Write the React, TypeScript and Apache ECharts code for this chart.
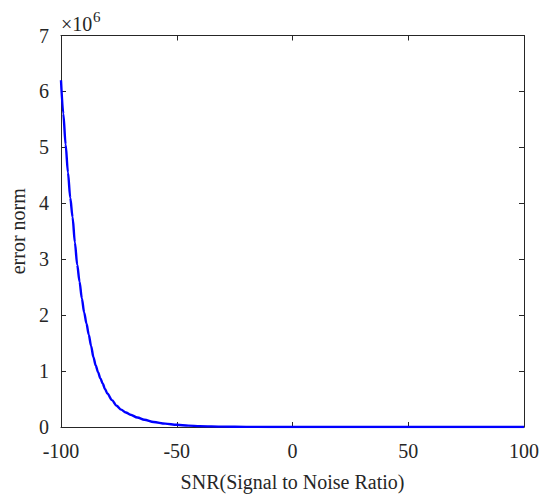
import React, { useEffect, useRef } from "react";
import * as echarts from "echarts";

const snr = [
  -100, -99, -98, -97, -96, -95, -94, -93, -92, -91, -90, -89, -88, -87, -86, -85, -84, -83, -82, -81,
  -80, -78, -76, -74, -72, -70, -67, -64, -60, -55, -50, -45, -40, -30, -20, -10, 0, 50, 100,
];
const errorNorm = [
  6.2, 5.6, 5.05, 4.55, 4.1, 3.75, 3.3, 2.9, 2.6, 2.3, 2.05, 1.85, 1.65, 1.45, 1.25, 1.1, 0.98, 0.87, 0.78,
  0.68, 0.6, 0.48, 0.38, 0.31, 0.26, 0.22, 0.17, 0.13, 0.09, 0.06, 0.04, 0.025, 0.015, 0.006, 0.002, 0.001,
  0.0005, 0.0001, 0,
].map((v) => v * 1e6);
const xTicks = [-100, -50, 0, 50, 100];
const yTicks = [0, 1, 2, 3, 4, 5, 6, 7];

const FONT = "Liberation Serif";
const TXT = "#262626";

export default function App() {
  const ref = useRef<HTMLDivElement>(null);
  useEffect(() => {
    const chart = echarts.init(ref.current!, null, { renderer: "svg" });
    const axisCommon = {
      axisLine: { show: true, onZero: false, lineStyle: { color: TXT, width: 1 } },
      axisTick: { show: true, inside: true, length: 5, lineStyle: { color: TXT } },
      splitLine: { show: false },
    };
    chart.setOption({
      animation: false,
      backgroundColor: "#ffffff",
      grid: { left: 60, right: 17.5, top: 35.5, bottom: 66.5, containLabel: false },
      xAxis: [
        {
          type: "value",
          min: xTicks[0],
          max: xTicks[xTicks.length - 1],
          interval: 50,
          position: "bottom",
          ...axisCommon,
          axisLabel: { color: TXT, fontFamily: FONT, fontSize: 20, margin: 14 },
          name: "SNR(Signal to Noise Ratio)",
          nameLocation: "middle",
          nameGap: 45,
          nameTextStyle: { color: TXT, fontFamily: FONT, fontSize: 20 },
        },
        {
          type: "value",
          min: xTicks[0],
          max: xTicks[xTicks.length - 1],
          interval: 50,
          position: "top",
          ...axisCommon,
          axisLabel: { show: false },
        },
      ],
      yAxis: [
        {
          type: "value",
          min: yTicks[0],
          max: yTicks[yTicks.length - 1] * 1e6,
          interval: 1e6,
          position: "left",
          ...axisCommon,
          axisLabel: {
            color: TXT,
            fontFamily: FONT,
            fontSize: 20,
            margin: 12,
            formatter: (v: number) => String(Math.round(v / 1e6)),
          },
          name: "error norm",
          nameLocation: "middle",
          nameGap: 33,
          nameTextStyle: { color: TXT, fontFamily: FONT, fontSize: 20 },
        },
        {
          type: "value",
          min: yTicks[0],
          max: yTicks[yTicks.length - 1] * 1e6,
          interval: 1e6,
          position: "right",
          ...axisCommon,
          axisLabel: { show: false },
        },
      ],
      graphic: [
        {
          type: "text",
          left: 61,
          top: 14,
          style: { text: "×10", fill: TXT, font: `20px "${FONT}"` },
        },
        {
          type: "text",
          left: 93,
          top: 9,
          style: { text: "6", fill: TXT, font: `15px "${FONT}"` },
        },
      ],
      series: [
        {
          type: "line",
          xAxisIndex: 0,
          yAxisIndex: 0,
          data: snr.map((x, i) => [x, errorNorm[i]]),
          showSymbol: false,
          symbol: "none",
          smooth: 0.3,
          smoothMonotone: "x",
          lineStyle: { color: "#0000ff", width: 2.4 },
          clip: true,
        },
      ],
    });
    return () => chart.dispose();
  }, []);
  return (
    <div
      ref={ref}
      style={{ position: "absolute", left: 0, top: 0, width: 542, height: 497 }}
    />
  );
}
